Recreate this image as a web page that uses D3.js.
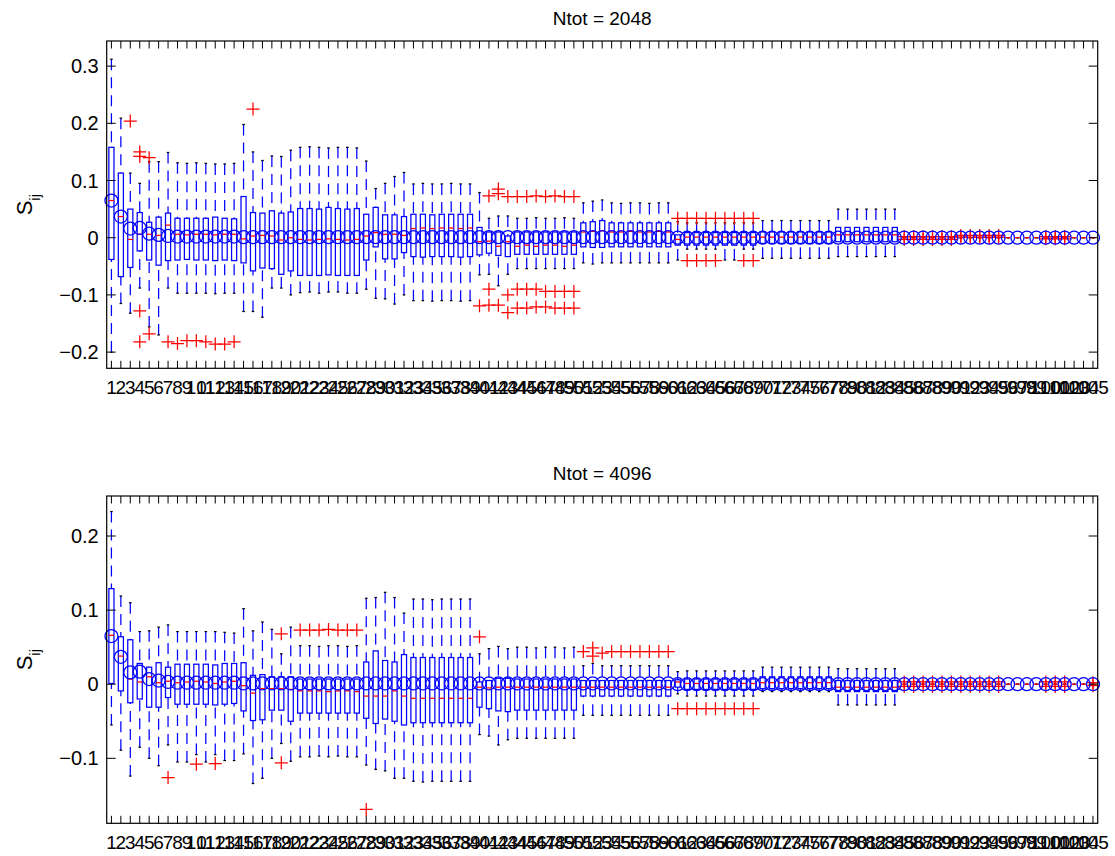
<!DOCTYPE html>
<html>
<head>
<meta charset="utf-8">
<script src="https://cdn.jsdelivr.net/npm/d3@7"></script>
<style>
  body { margin: 0; background: #fff; }
  svg text { font-family: "Liberation Sans", Arial, Helvetica, sans-serif; fill: #000; }
</style>
</head>
<body>
<svg id="fig" width="1115" height="856"></svg>
<script>
// ---- categories (pair indices) ----
const categories = d3.range(1, 106);

// reference values S_ij drawn as blue circles (same in both panels)
const trueS = [
  0.065, 0.037, 0.016, 0.017, 0.007, 0.005, 0.003, 0.002, 0.002, 0.002,
  0.002, 0.002, 0.002, 0.002, 0.001, 0.001, 0.001, 0.001, 0.001, 0.001,
  0.001, 0.001, 0.001, 0.001, 0.001, 0.001, 0.001, 0.001, 0.001, 0.001,
  0.001, 0.001, 0.001, 0.001, 0.001, 0.001, 0.001, 0.001, 0.001, 0.001,
  0.001, 0.001, 0.001, 0.001, 0.001, 0.001, 0.001, 0.001, 0.001, 0.001,
  0.001, 0.001, 0.001, 0.001, 0.001, 0.001, 0.001, 0.001, 0.001, 0.001,
  0, 0, 0, 0, 0, 0, 0, 0, 0, 0,
  0, 0, 0, 0, 0, 0, 0, 0, 0, 0,
  0, 0, 0, 0, 0, 0, 0, 0, 0, 0,
  0, 0, 0, 0, 0, 0, 0, 0, 0, 0,
  0, 0, 0, 0, 0
];

// ---- Ntot = 2048 ----
const hi2048 = [
  0.312, 0.209, 0.113, 0.095, 0.133, 0.133, 0.149, 0.131, 0.130, 0.131,
  0.130, 0.129, 0.129, 0.130, 0.198, 0.150, 0.135, 0.143, 0.142, 0.153,
  0.158, 0.159, 0.158, 0.157, 0.158, 0.158, 0.157, 0.134, 0.086, 0.095,
  0.107, 0.114, 0.094, 0.095, 0.094, 0.094, 0.095, 0.094, 0.094, 0.079,
  0.034, 0.038, 0.038, 0.034, 0.034, 0.035, 0.034, 0.034, 0.035, 0.034,
  0.061, 0.064, 0.066, 0.061, 0.060, 0.061, 0.061, 0.060, 0.061, 0.061,
  0.028, 0.026, 0.026, 0.026, 0.026, 0.026, 0.026, 0.026, 0.026, 0.030,
  0.030, 0.030, 0.030, 0.030, 0.030, 0.030, 0.030, 0.050, 0.050, 0.050,
  0.050, 0.050, 0.050, 0.050, 0, 0, 0, 0, 0, 0,
  0, 0, 0, 0, 0, 0, 0, 0, 0, 0,
  0, 0, 0, 0, 0
];
const q3_2048 = [
  0.158, 0.113, 0.050, 0.044, 0.027, 0.036, 0.043, 0.034, 0.034, 0.034,
  0.034, 0.036, 0.034, 0.033, 0.072, 0.044, 0.043, 0.047, 0.043, 0.045,
  0.051, 0.051, 0.050, 0.053, 0.051, 0.050, 0.051, 0.041, 0.053, 0.040,
  0.040, 0.037, 0.041, 0.041, 0.040, 0.041, 0.041, 0.041, 0.041, 0.018,
  0.010, 0.010, 0.003, 0.010, 0.010, 0.010, 0.010, 0.010, 0.010, 0.010,
  0.026, 0.028, 0.030, 0.026, 0.026, 0.026, 0.026, 0.026, 0.026, 0.026,
  0.005, 0.009, 0.009, 0.009, 0.009, 0.009, 0.009, 0.009, 0.009, 0.010,
  0.010, 0.010, 0.010, 0.010, 0.010, 0.010, 0.010, 0.018, 0.018, 0.018,
  0.018, 0.018, 0.018, 0.018, 0, 0, 0, 0, 0, 0,
  0, 0, 0, 0, 0, 0, 0, 0, 0, 0,
  0, 0, 0, 0, 0
];
const med2048 = [
  0.065, 0.037, -0.003, 0.006, 0.006, 0.004, 0.022, 0.006, 0.005, 0.006,
  0.006, 0.005, 0.006, 0.006, -0.002, 0.003, 0.004, 0.003, -0.004, 0.000,
  -0.003, -0.004, -0.003, -0.002, -0.003, -0.004, -0.003, 0.003, 0.009, 0.006,
  0.006, 0.004, 0.016, 0.017, 0.016, 0.017, 0.017, 0.016, 0.017, -0.007,
  -0.006, -0.015, -0.007, -0.015, -0.013, -0.015, -0.013, -0.013, -0.015, -0.013,
  0.010, 0.011, 0.012, 0.010, 0.010, 0.011, 0.010, 0.010, 0.011, 0.010,
  -0.003, 0.001, 0.001, 0.001, 0.001, 0.001, 0.001, 0.001, 0.001, 0.001,
  0.001, 0.001, 0.001, 0.001, 0.001, 0.001, 0.001, 0.005, 0.005, 0.005,
  0.005, 0.005, 0.005, 0.005, 0, 0, 0, 0, 0, 0,
  0, 0, 0, 0, 0, 0, 0, 0, 0, 0,
  0, 0, 0, 0, 0
];
const q1_2048 = [
  -0.038, -0.068, -0.052, -0.023, -0.039, -0.048, -0.040, -0.039, -0.038, -0.039,
  -0.039, -0.040, -0.039, -0.040, -0.044, -0.058, -0.053, -0.054, -0.064, -0.058,
  -0.066, -0.066, -0.066, -0.065, -0.066, -0.066, -0.066, -0.039, -0.016, -0.037,
  -0.037, -0.026, -0.033, -0.034, -0.033, -0.033, -0.033, -0.034, -0.033, -0.030,
  -0.027, -0.031, -0.033, -0.029, -0.029, -0.029, -0.029, -0.029, -0.029, -0.029,
  -0.016, -0.017, -0.017, -0.016, -0.016, -0.016, -0.016, -0.016, -0.016, -0.016,
  -0.013, -0.013, -0.013, -0.013, -0.013, -0.013, -0.013, -0.013, -0.013, -0.010,
  -0.010, -0.010, -0.010, -0.010, -0.010, -0.010, -0.010, -0.007, -0.007, -0.007,
  -0.007, -0.007, -0.007, -0.007, 0, 0, 0, 0, 0, 0,
  0, 0, 0, 0, 0, 0, 0, 0, 0, 0,
  0, 0, 0, 0, 0
];
const lo2048 = [
  -0.200, -0.115, -0.132, -0.088, -0.156, -0.170, -0.088, -0.097, -0.097, -0.097,
  -0.097, -0.098, -0.097, -0.097, -0.129, -0.129, -0.139, -0.088, -0.088, -0.100,
  -0.096, -0.095, -0.097, -0.095, -0.095, -0.097, -0.097, -0.090, -0.106, -0.107,
  -0.116, -0.100, -0.110, -0.110, -0.111, -0.110, -0.110, -0.111, -0.110, -0.065,
  -0.064, -0.084, -0.064, -0.054, -0.054, -0.054, -0.054, -0.054, -0.054, -0.054,
  -0.044, -0.046, -0.044, -0.044, -0.044, -0.044, -0.044, -0.044, -0.044, -0.044,
  -0.039, -0.020, -0.020, -0.020, -0.020, -0.039, -0.039, -0.020, -0.020, -0.036,
  -0.036, -0.036, -0.036, -0.036, -0.036, -0.036, -0.036, -0.033, -0.033, -0.033,
  -0.033, -0.033, -0.033, -0.033, 0, 0, 0, 0, 0, 0,
  0, 0, 0, 0, 0, 0, 0, 0, 0, 0,
  0, 0, 0, 0, 0
];
// outliers: [category, value]
const out2048 = [
  [3, 0.204], [4, 0.150], [4, 0.142], [4, -0.128], [4, -0.182], [5, 0.140], [5, -0.168],
  [7, -0.182], [8, -0.185], [9, -0.180], [10, -0.180], [11, -0.182], [12, -0.186], [13, -0.186], [14, -0.182],
  [16, 0.225],
  [40, -0.119],
  [41, 0.073], [41, -0.090], [41, -0.118],
  [42, 0.085], [42, 0.077], [42, -0.118],
  [43, 0.072], [43, -0.100], [43, -0.131],
  [44, 0.072], [44, -0.090], [44, -0.123],
  [45, 0.072], [45, -0.090], [45, -0.123],
  [46, 0.073], [46, -0.090], [46, -0.121],
  [47, 0.072], [47, -0.094], [47, -0.121],
  [48, 0.073], [48, -0.094], [48, -0.123],
  [49, 0.072], [49, -0.094], [49, -0.123],
  [50, 0.072], [50, -0.094], [50, -0.123],
  [61, 0.034], [62, 0.034], [63, 0.034], [64, 0.034], [65, 0.034], [66, 0.034], [67, 0.034], [68, 0.034], [69, 0.034],
  [62, -0.040], [63, -0.040], [64, -0.040], [65, -0.040], [68, -0.040], [69, -0.040],
  [85, 0.002], [85, -0.003], [86, 0.002], [86, -0.003], [87, 0.002], [87, -0.003],
  [88, 0.002], [88, -0.003], [89, 0.002], [89, -0.003], [90, 0.002], [90, -0.003],
  [91, 0.004], [91, 0.001], [92, 0.004], [92, 0.001], [93, 0.004], [93, 0.001],
  [94, 0.004], [94, 0.001], [95, 0.004], [95, 0.001],
  [100, 0.002], [100, -0.002], [101, 0.002], [101, -0.002], [102, 0.002], [102, -0.002]
];

// ---- Ntot = 4096 ----
const hi4096 = [
  0.233, 0.119, 0.110, 0.071, 0.072, 0.077, 0.080, 0.071, 0.071, 0.071,
  0.071, 0.071, 0.070, 0.069, 0.102, 0.072, 0.084, 0.074, 0.041, 0.077,
  0.052, 0.052, 0.051, 0.052, 0.052, 0.051, 0.052, 0.116, 0.117, 0.124,
  0.117, 0.096, 0.115, 0.115, 0.114, 0.115, 0.115, 0.115, 0.115, 0.041,
  0.048, 0.051, 0.048, 0.050, 0.050, 0.049, 0.050, 0.050, 0.049, 0.050,
  0.025, 0.028, 0.025, 0.025, 0.025, 0.025, 0.025, 0.025, 0.025, 0.025,
  0.017, 0.018, 0.018, 0.018, 0.018, 0.018, 0.018, 0.018, 0.018, 0.023,
  0.023, 0.023, 0.023, 0.023, 0.023, 0.023, 0.023, 0.021, 0.021, 0.021,
  0.021, 0.021, 0.021, 0.021, 0, 0, 0, 0, 0, 0,
  0, 0, 0, 0, 0, 0, 0, 0, 0, 0,
  0, 0, 0, 0, 0
];
const q3_4096 = [
  0.129, 0.064, 0.060, 0.028, 0.023, 0.029, 0.023, 0.027, 0.027, 0.027,
  0.027, 0.026, 0.028, 0.028, 0.029, 0.012, 0.013, 0.010, 0.010, 0.010,
  0.007, 0.007, 0.007, 0.007, 0.007, 0.007, 0.007, 0.030, 0.045, 0.032,
  0.030, 0.040, 0.036, 0.036, 0.036, 0.036, 0.036, 0.036, 0.036, 0.003,
  0.005, 0.008, 0.008, 0.007, 0.007, 0.007, 0.007, 0.007, 0.007, 0.007,
  0.005, 0.005, 0.005, 0.005, 0.005, 0.005, 0.005, 0.005, 0.005, 0.005,
  0.006, 0.007, 0.007, 0.007, 0.007, 0.007, 0.007, 0.007, 0.007, 0.010,
  0.010, 0.010, 0.010, 0.010, 0.010, 0.010, 0.010, 0.005, 0.005, 0.005,
  0.005, 0.005, 0.005, 0.005, 0, 0, 0, 0, 0, 0,
  0, 0, 0, 0, 0, 0, 0, 0, 0, 0,
  0, 0, 0, 0, 0
];
const med4096 = [
  0.066, 0.038, 0.007, 0.003, 0.010, 0.002, 0.004, 0.002, 0.003, 0.004,
  0.003, 0.001, 0.003, 0.004, -0.002, -0.012, -0.006, -0.006, -0.006, -0.007,
  -0.009, -0.009, -0.009, -0.010, -0.009, -0.009, -0.010, -0.016, -0.016, -0.016,
  -0.009, -0.016, -0.019, -0.019, -0.019, -0.019, -0.019, -0.019, -0.019, -0.004,
  -0.005, -0.004, -0.004, -0.004, -0.004, -0.004, -0.004, -0.004, -0.004, -0.004,
  -0.004, -0.004, -0.004, -0.004, -0.004, -0.004, -0.004, -0.004, -0.004, -0.004,
  0.003, 0.001, 0.001, 0.001, 0.001, 0.001, 0.001, 0.001, 0.001, 0.002,
  0.002, 0.002, 0.002, 0.002, 0.002, 0.002, 0.002, -0.004, -0.004, -0.004,
  -0.004, -0.004, -0.004, -0.004, 0, 0, 0, 0, 0, 0,
  0, 0, 0, 0, 0, 0, 0, 0, 0, 0,
  0, 0, 0, 0, 0
];
const q1_4096 = [
  0.001, -0.009, -0.025, -0.020, -0.031, -0.031, -0.018, -0.027, -0.027, -0.027,
  -0.027, -0.028, -0.027, -0.026, -0.036, -0.049, -0.048, -0.035, -0.035, -0.050,
  -0.039, -0.039, -0.039, -0.039, -0.039, -0.039, -0.039, -0.046, -0.053, -0.047,
  -0.050, -0.055, -0.052, -0.052, -0.052, -0.052, -0.052, -0.052, -0.052, -0.031,
  -0.033, -0.036, -0.037, -0.035, -0.035, -0.035, -0.035, -0.035, -0.035, -0.035,
  -0.016, -0.016, -0.016, -0.016, -0.016, -0.016, -0.016, -0.016, -0.016, -0.016,
  -0.004, -0.007, -0.007, -0.007, -0.007, -0.007, -0.007, -0.007, -0.007, -0.006,
  -0.006, -0.006, -0.006, -0.006, -0.006, -0.006, -0.006, -0.010, -0.010, -0.010,
  -0.010, -0.010, -0.010, -0.010, 0, 0, 0, 0, 0, 0,
  0, 0, 0, 0, 0, 0, 0, 0, 0, 0,
  0, 0, 0, 0, 0
];
const lo4096 = [
  -0.055, -0.089, -0.124, -0.085, -0.100, -0.110, -0.082, -0.105, -0.105, -0.095,
  -0.105, -0.095, -0.103, -0.103, -0.094, -0.134, -0.127, -0.100, -0.080, -0.104,
  -0.098, -0.098, -0.097, -0.098, -0.097, -0.098, -0.098, -0.109, -0.115, -0.117,
  -0.127, -0.127, -0.131, -0.132, -0.131, -0.131, -0.131, -0.131, -0.131, -0.068,
  -0.070, -0.082, -0.075, -0.073, -0.073, -0.073, -0.073, -0.073, -0.073, -0.073,
  -0.042, -0.042, -0.042, -0.042, -0.042, -0.042, -0.042, -0.042, -0.042, -0.042,
  -0.013, -0.016, -0.016, -0.016, -0.016, -0.016, -0.016, -0.016, -0.016, -0.010,
  -0.010, -0.010, -0.010, -0.010, -0.010, -0.010, -0.010, -0.028, -0.028, -0.028,
  -0.028, -0.028, -0.028, -0.028, 0, 0, 0, 0, 0, 0,
  0, 0, 0, 0, 0, 0, 0, 0, 0, 0,
  0, 0, 0, 0, 0
];
const out4096 = [
  [7, -0.126], [10, -0.108], [12, -0.107], [19, 0.068], [19, -0.106],
  [21, 0.073], [22, 0.073], [23, 0.073], [24, 0.074], [25, 0.073], [26, 0.073], [27, 0.073],
  [28, -0.169], [40, 0.064],
  [51, 0.044], [52, 0.049], [52, 0.038], [53, 0.042], [54, 0.044], [55, 0.044],
  [56, 0.044], [57, 0.044], [58, 0.044], [59, 0.044], [60, 0.044],
  [61, -0.033], [62, -0.033], [63, -0.033], [64, -0.033], [65, -0.033],
  [66, -0.033], [67, -0.033], [68, -0.033], [69, -0.033],
  [85, 0.003], [85, -0.003], [86, 0.003], [86, -0.003], [87, 0.003], [87, -0.003],
  [88, 0.003], [88, -0.003], [89, 0.003], [89, -0.003], [90, 0.003], [90, -0.003],
  [91, 0.003], [91, -0.003], [92, 0.003], [92, -0.003], [93, 0.003], [93, -0.003],
  [94, 0.003], [94, -0.003], [95, 0.003], [95, -0.003],
  [100, 0.003], [100, -0.003], [101, 0.003], [101, -0.003], [102, 0.003], [102, -0.003],
  [105, 0.002], [105, -0.002]
];

// y tick values for each panel
const yTicks2048 = [-0.2, -0.1, 0, 0.1, 0.2, 0.3];
const yTicks4096 = [-0.1, 0, 0.1, 0.2];

// ---- drawing ----
const svg = d3.select("#fig");
const BLUE = "#0000ff", RED = "#ff0000";
const axLeft = 106.7, axRight = 1097.7;
const LW = 1.25;
const fmt = v => v === 0 ? "0" : (v < 0 ? "\u2212" : "") + Math.abs(v).toFixed(1);

function drawPanel(p) {
  const g = svg.append("g");
  const x = d3.scaleLinear().domain([0.5, categories.length + 0.5]).range([axLeft, axRight]);
  const y = d3.scaleLinear().domain(p.ylim).range([p.bottom, p.top]);
  const half = (x(1) - x(0)) * 0.27;   // box half-width
  const capHalf = half * 0.5;          // whisker end half-width

  const rows = categories.map((c, i) => ({
    c, hi: p.hi[i], q3: p.q3[i], med: p.med[i], q1: p.q1[i], lo: p.lo[i]
  }));

  // whiskers
  g.append("g").selectAll("line").data(rows).join("line")
    .attr("x1", d => x(d.c)).attr("x2", d => x(d.c))
    .attr("y1", d => y(d.hi)).attr("y2", d => y(d.q3))
    .attr("stroke", BLUE).attr("stroke-width", LW).attr("stroke-dasharray", "11,7");
  g.append("g").selectAll("line").data(rows).join("line")
    .attr("x1", d => x(d.c)).attr("x2", d => x(d.c))
    .attr("y1", d => y(d.lo)).attr("y2", d => y(d.q1))
    .attr("stroke", BLUE).attr("stroke-width", LW).attr("stroke-dasharray", "11,7");
  // adjacent-value caps
  ["hi", "lo"].forEach(k => {
    g.append("g").selectAll("line").data(rows).join("line")
      .attr("x1", d => x(d.c) - capHalf).attr("x2", d => x(d.c) + capHalf)
      .attr("y1", d => y(d[k])).attr("y2", d => y(d[k]))
      .attr("stroke", "#000").attr("stroke-width", LW);
  });
  // boxes
  g.append("g").selectAll("rect").data(rows).join("rect")
    .attr("x", d => x(d.c) - half).attr("width", 2 * half)
    .attr("y", d => y(d.q3)).attr("height", d => y(d.q1) - y(d.q3))
    .attr("fill", "none").attr("stroke", BLUE).attr("stroke-width", LW);
  // medians
  g.append("g").selectAll("line").data(rows).join("line")
    .attr("x1", d => x(d.c) - half).attr("x2", d => x(d.c) + half)
    .attr("y1", d => y(d.med)).attr("y2", d => y(d.med))
    .attr("stroke", RED).attr("stroke-width", LW);
  // outliers
  const arm = 6.5;
  g.append("g").selectAll("path").data(p.outliers).join("path")
    .attr("d", d => {
      const cx = x(d[0]), cy = y(d[1]);
      return `M${cx - arm},${cy}H${cx + arm}M${cx},${cy - arm}V${cy + arm}`;
    })
    .attr("stroke", RED).attr("stroke-width", LW).attr("fill", "none");
  // reference values
  g.append("g").selectAll("circle").data(categories).join("circle")
    .attr("cx", c => x(c)).attr("cy", (c, i) => y(trueS[i])).attr("r", 6.5)
    .attr("fill", "none").attr("stroke", BLUE).attr("stroke-width", LW);

  // frame
  g.append("rect").attr("x", axLeft).attr("y", p.top)
    .attr("width", axRight - axLeft).attr("height", p.bottom - p.top)
    .attr("fill", "none").attr("stroke", "#000").attr("stroke-width", 1.2);

  // x ticks (bottom and top, pointing inward) and labels
  const xt = 7.5;
  g.append("g").selectAll("line").data(categories).join("line")
    .attr("x1", c => x(c)).attr("x2", c => x(c))
    .attr("y1", p.bottom).attr("y2", p.bottom - xt)
    .attr("stroke", "#000").attr("stroke-width", 1);
  g.append("g").selectAll("line").data(categories).join("line")
    .attr("x1", c => x(c)).attr("x2", c => x(c))
    .attr("y1", p.top).attr("y2", p.top + xt)
    .attr("stroke", "#000").attr("stroke-width", 1);
  g.append("g").selectAll("text").data(categories).join("text")
    .attr("x", c => x(c)).attr("y", p.bottom + 26)
    .attr("text-anchor", "middle").attr("font-size", 19)
    .text(c => c);

  // y ticks (left and right, inward) and labels
  const yt = 9;
  g.append("g").selectAll("line").data(p.yticks).join("line")
    .attr("x1", axLeft).attr("x2", axLeft + yt)
    .attr("y1", v => y(v)).attr("y2", v => y(v))
    .attr("stroke", "#000").attr("stroke-width", 1);
  g.append("g").selectAll("line").data(p.yticks).join("line")
    .attr("x1", axRight).attr("x2", axRight - yt)
    .attr("y1", v => y(v)).attr("y2", v => y(v))
    .attr("stroke", "#000").attr("stroke-width", 1);
  g.append("g").selectAll("text").data(p.yticks).join("text")
    .attr("x", axLeft - 8).attr("y", v => y(v)).attr("dy", "0.35em")
    .attr("text-anchor", "end").attr("font-size", 20)
    .text(fmt);

  // title
  g.append("text").attr("x", (axLeft + axRight) / 2).attr("y", p.top - 16)
    .attr("text-anchor", "middle").attr("font-size", 19)
    .text(p.title);

  // y label  S_ij
  const lab = g.append("text")
    .attr("transform", `translate(32,${(p.top + p.bottom) / 2}) rotate(-90)`)
    .attr("text-anchor", "middle").attr("font-size", 22);
  lab.append("tspan").text("S");
  lab.append("tspan").attr("dy", 8).attr("font-size", 15).text("ij");
}

drawPanel({
  title: "Ntot = 2048", top: 41, bottom: 368.3, ylim: [-0.2283, 0.3439],
  yticks: yTicks2048, hi: hi2048, q3: q3_2048, med: med2048, q1: q1_2048, lo: lo2048,
  outliers: out2048
});
drawPanel({
  title: "Ntot = 4096", top: 496, bottom: 823.3, ylim: [-0.1877, 0.254],
  yticks: yTicks4096, hi: hi4096, q3: q3_4096, med: med4096, q1: q1_4096, lo: lo4096,
  outliers: out4096
});
</script>
</body>
</html>
